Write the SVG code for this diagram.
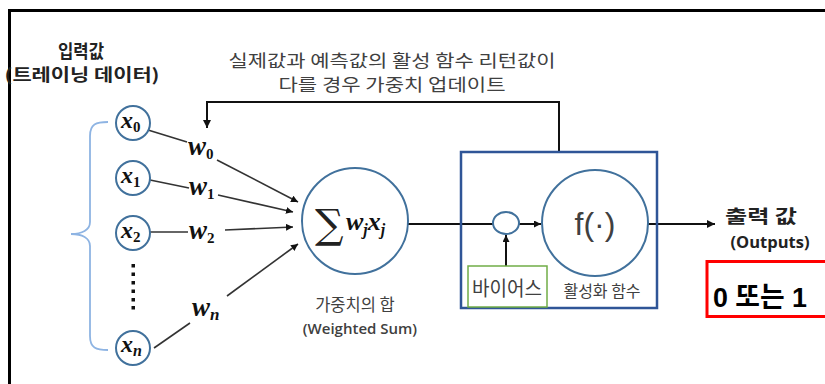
<svg xmlns="http://www.w3.org/2000/svg" width="825" height="384" viewBox="0 0 825 384">
<style>
.kr{font-family:"Noto Sans CJK KR","Noto Sans",sans-serif;}
.gray{fill:#404040;}
.node{fill:#fff;stroke:#41719c;stroke-width:2;}
.math{font-family:"Liberation Serif","DejaVu Serif",serif;font-style:italic;font-weight:bold;fill:#111;}
.conn{stroke:#333;stroke-width:1.6;fill:none;}
.blk{stroke:#111;stroke-width:2;fill:none;}
</style>
<defs>
<marker id="ah" viewBox="0 0 10 10" refX="10" refY="5" markerWidth="7" markerHeight="7" markerUnits="userSpaceOnUse" orient="auto">
<path d="M0,0 L10,5 L0,10 z" fill="#111"/>
</marker>
<marker id="ah2" viewBox="0 0 10 10" refX="10" refY="5" markerWidth="8" markerHeight="8" markerUnits="userSpaceOnUse" orient="auto">
<path d="M0,0 L10,5 L0,10 z" fill="#111"/>
</marker>
</defs>
<rect width="825" height="384" fill="#fff"/>
<path d="M9.5,384 V10.5 H825" stroke="#000" stroke-width="3" fill="none"/>

<g id="title-input">
<text class="kr" x="81" y="58" font-size="18" font-weight="bold" fill="#222" text-anchor="middle" textLength="46" lengthAdjust="spacingAndGlyphs">입력값</text>
<text class="kr" x="82" y="81" font-size="17" font-weight="bold" fill="#222" text-anchor="middle" textLength="155" lengthAdjust="spacingAndGlyphs">(트레이닝 데이터)</text>
</g>

<g id="feedback-label">
<text class="kr gray" x="392" y="67" font-size="17" text-anchor="middle" textLength="327" lengthAdjust="spacingAndGlyphs">실제값과 예측값의 활성 함수 리턴값이</text>
<text class="kr gray" x="392" y="91" font-size="17" text-anchor="middle" textLength="227" lengthAdjust="spacingAndGlyphs">다를 경우 가중치 업데이트</text>
</g>

<g id="brace">
<path d="M108,122 C96,122 90,124 90,136 V222 C90,230 82,234 71,234 C82,234 90,238 90,246 V336 C90,348 96,350 108,350" stroke="#8eb4e3" stroke-width="1.8" fill="none"/>
</g>

<g id="connectors">
<path class="blk" d="M559,151 V102 H207 V128" marker-end="url(#ah2)"/>
<line class="conn" x1="148" y1="130" x2="187" y2="142"/>
<line class="conn" x1="217" y1="160" x2="298" y2="202" marker-end="url(#ah)"/>
<line class="conn" x1="150" y1="180" x2="189" y2="188"/>
<line class="conn" x1="218" y1="195" x2="293" y2="212" marker-end="url(#ah)"/>
<line class="conn" x1="150" y1="232" x2="188" y2="232"/>
<line class="conn" x1="225" y1="230" x2="293" y2="227" marker-end="url(#ah)"/>
<line class="conn" x1="154" y1="348" x2="190" y2="323"/>
<line class="conn" x1="227" y1="296" x2="298" y2="244" marker-end="url(#ah)"/>
<line class="blk" x1="408" y1="224" x2="493" y2="224"/>
<line class="blk" x1="519" y1="224" x2="541" y2="224" marker-end="url(#ah)"/>
<line class="blk" x1="506" y1="266" x2="506" y2="235" marker-end="url(#ah)"/>
<line class="blk" x1="648" y1="224" x2="715" y2="224" marker-end="url(#ah2)"/>
</g>

<g id="x0">
<circle class="node" cx="133" cy="123" r="17"/>
<text class="math" x="121" y="128" font-size="24">x<tspan font-size="15" dy="4" font-style="normal">0</tspan></text>
</g>
<g id="x1">
<circle class="node" cx="133" cy="178" r="17"/>
<text class="math" x="121" y="183" font-size="24">x<tspan font-size="15" dy="4" font-style="normal">1</tspan></text>
</g>
<g id="x2">
<circle class="node" cx="133" cy="233" r="17"/>
<text class="math" x="121" y="238" font-size="24">x<tspan font-size="15" dy="4" font-style="normal">2</tspan></text>
</g>
<g id="dots">
<g fill="#111">
<rect x="131.5" y="264" width="3.5" height="3.5"/>
<rect x="131.5" y="272.5" width="3.5" height="3.5"/>
<rect x="131.5" y="281" width="3.5" height="3.5"/>
<rect x="131.5" y="289.5" width="3.5" height="3.5"/>
<rect x="131.5" y="298" width="3.5" height="3.5"/>
<rect x="131.5" y="306" width="3.5" height="3.5"/>
</g>
</g>
<g id="xn">
<circle class="node" cx="133" cy="348" r="17"/>
<text class="math" x="121" y="352" font-size="24">x<tspan font-size="16" dy="4">n</tspan></text>
</g>

<g id="weights">
<text class="math" x="188" y="155" font-size="27">w<tspan font-size="15" dy="4" font-style="normal">0</tspan></text>
<text class="math" x="189" y="195" font-size="27">w<tspan font-size="15" dy="4" font-style="normal">1</tspan></text>
<text class="math" x="189" y="239" font-size="27">w<tspan font-size="15" dy="4" font-style="normal">2</tspan></text>
<text class="math" x="192" y="316" font-size="27">w<tspan font-size="17" dy="4">n</tspan></text>
</g>

<g id="sum">
<circle class="node" cx="355" cy="221" r="53"/>
<text x="315" y="238" font-family="DejaVu Serif,serif" font-size="40" fill="#222">∑</text>
<text class="math" x="346" y="230" font-size="26">w<tspan font-size="16" dy="5">j</tspan><tspan dy="-5">x</tspan><tspan font-size="16" dy="5">j</tspan></text>
<text class="kr gray" x="355" y="311" font-size="16.5" text-anchor="middle">가중치의 합</text>
<text x="360" y="334" font-family="Open Sans,sans-serif" font-weight="600" font-size="15" fill="#404040" text-anchor="middle">(Weighted Sum)</text>
</g>

<g id="activation-box">
<rect x="461" y="152" width="196" height="156" fill="none" stroke="#2f5597" stroke-width="2.5"/>
</g>

<g id="bias-sum">
<ellipse class="node" cx="506" cy="223" rx="13" ry="11"/>
</g>

<g id="bias">
<rect x="468" y="266" width="79" height="41" fill="#fff" stroke="#70ad47" stroke-width="1.5"/>
<text class="kr gray" x="507" y="296" font-size="20" text-anchor="middle" textLength="70" lengthAdjust="spacingAndGlyphs">바이어스</text>
</g>

<g id="activation">
<circle class="node" cx="595" cy="223" r="53"/>
<text x="595" y="235" font-family="Liberation Sans,Arial,sans-serif" font-size="32" fill="#404040" text-anchor="middle">f(·)</text>
<text class="kr gray" x="602" y="297" font-size="16" text-anchor="middle">활성화 함수</text>
</g>

<g id="output">
<text class="kr" x="761" y="223" font-size="18" font-weight="bold" fill="#222" text-anchor="middle" textLength="72" lengthAdjust="spacingAndGlyphs">출력 값</text>
<text x="770" y="248" font-family="Open Sans,sans-serif" font-weight="bold" font-size="16.5" fill="#222" text-anchor="middle">(Outputs)</text>
</g>

<g id="result">
<rect x="707" y="261.5" width="130" height="55" fill="#fff" stroke="#ff0000" stroke-width="3"/>
<text x="713" y="307" font-family="Liberation Sans,'Noto Sans CJK KR',sans-serif" font-weight="bold" font-size="28" fill="#000" textLength="94" lengthAdjust="spacingAndGlyphs">0 또는 1</text>
</g>
</svg>
